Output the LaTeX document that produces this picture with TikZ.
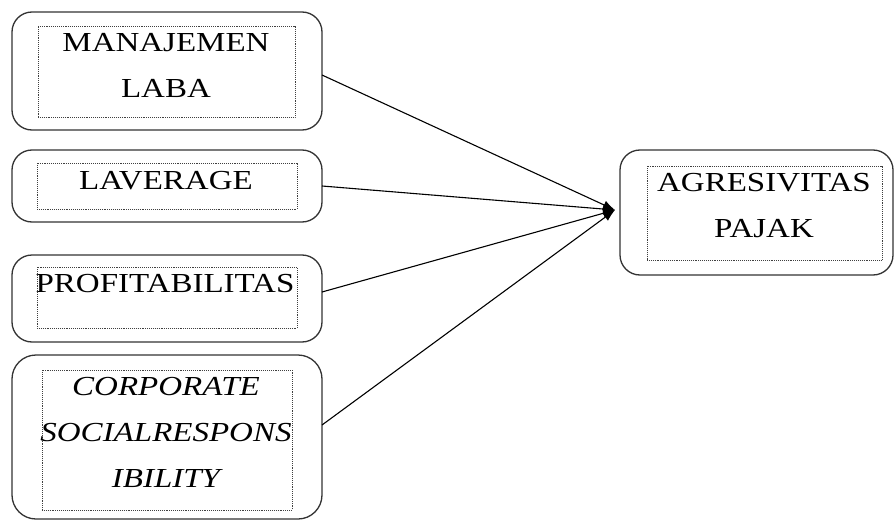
\documentclass[tikz,border=0pt]{standalone}
\usepackage{fontspec}
\setmainfont[FakeStretch=1.2]{Liberation Serif}
\usetikzlibrary{arrows.meta}
\begin{document}
\begin{tikzpicture}[x=1pt,y=-1pt,
  outerbox/.style={draw=black!80, line width=1.3pt, rounded corners=20pt, inner sep=0pt, outer sep=0pt},
  innerbox/.style={draw=black!75, densely dotted, line width=0.9pt, inner sep=0pt, outer sep=0pt},
  lbl/.style={font=\fontsize{27.5}{46}\selectfont, align=center, anchor=base, inner sep=0pt},
  conn/.style={line width=1.1pt, -{Latex[length=12pt,width=9pt]}}]
\useasboundingbox (0,0) rectangle (895,522);
% box 1
\node[outerbox, minimum width=310pt, minimum height=118pt] (o1) at (167,71) {};
\node[innerbox, minimum width=257pt, minimum height=91pt] (i1) at (166.5,71.5) {};
\node[lbl] (t1) at (166,97) {MANAJEMEN\\LABA};
% box 2
\node[outerbox, minimum width=310pt, minimum height=72pt] (o2) at (167,186) {};
\node[innerbox, minimum width=260pt, minimum height=46pt] (i2) at (167,186) {};
\node[lbl] (t2) at (166,189) {LAVERAGE};
% box 3
\node[outerbox, minimum width=310pt, minimum height=87pt] (o3) at (167,298.5) {};
\node[innerbox, minimum width=260pt, minimum height=61pt] (i3) at (167,297.5) {};
\node[lbl] (t3) at (165,292) {PROFITABILITAS};
% box 4
\node[outerbox, minimum width=310pt, minimum height=164pt, rounded corners=24pt] (o4) at (167,437) {};
\node[innerbox, minimum width=250pt, minimum height=140pt] (i4) at (167,440) {};
\node[lbl, font=\fontsize{27.5}{46}\selectfont\itshape] (t4) at (166,487) {CORPORATE\\SOCIALRESPONS\\IBILITY};
% box 5
\node[outerbox, minimum width=273pt, minimum height=125pt] (o5) at (756.5,212.5) {};
\node[innerbox, minimum width=235pt, minimum height=94pt] (i5) at (764.5,213) {};
\node[lbl] (t5) at (764,237) {AGRESIVITAS\\PAJAK};
% connectors
\coordinate (tip) at (615,210);
\draw[conn] ([yshift=-4pt]o1.east) -- (tip);
\draw[conn] (o2.east) -- (tip);
\draw[conn] ([yshift=6.5pt]o3.east) -- (tip);
\draw[conn] ([yshift=12pt]o4.east) -- (tip);
\end{tikzpicture}
\end{document}
